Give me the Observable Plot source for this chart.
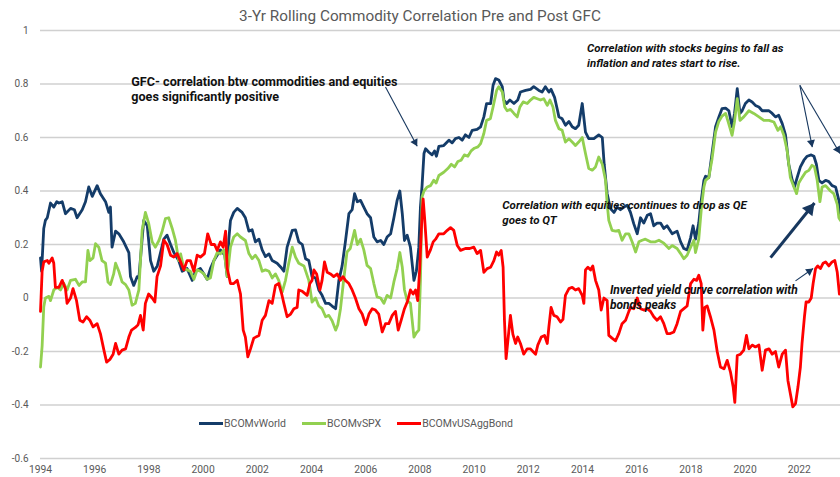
<!DOCTYPE html>
<html><head><meta charset="utf-8">
<script src="https://cdn.jsdelivr.net/npm/d3@7"></script>
<script src="https://cdn.jsdelivr.net/npm/@observablehq/plot@0.6"></script>
<style>
body{margin:0;background:#fff;font-family:Roboto,sans-serif;}
#wrap{position:relative;width:840px;height:477px;overflow:hidden;}
#title{position:absolute;top:7px;left:0;width:840px;text-align:center;font-size:15.3px;color:#595959;line-height:19px;}
#legend{position:absolute;top:417px;left:199px;display:flex;align-items:center;font-size:10.5px;color:#595959;}
.item{display:flex;align-items:center;margin-right:16px;}
.sw{width:24px;height:3px;margin-right:1px;}
</style></head>
<body>
<div id="wrap"><div id="chart"></div><div id="title"></div><div id="legend"></div></div>
<script>
const chartTitle = "3-Yr Rolling Commodity Correlation Pre and Post GFC";
const seriesNames = ["BCOMvWorld","BCOMvSPX","BCOMvUSAggBond"];
const seriesColors = ["#143c69","#92d050","#ff0000"];
const yTicks = [-0.6,-0.4,-0.2,0,0.2,0.4,0.6,0.8,1];
const xTicks = [1994,1996,1998,2000,2002,2004,2006,2008,2010,2012,2014,2016,2018,2020,2022];

const world = [[1994.0,0.15],[1994.04,0.10],[1994.12,0.26],[1994.18,0.29],[1994.25,0.30],[1994.37,0.355],[1994.49,0.34],[1994.6,0.36],[1994.68,0.355],[1994.8,0.36],[1994.92,0.315],[1995.11,0.335],[1995.25,0.33],[1995.35,0.30],[1995.54,0.33],[1995.66,0.36],[1995.78,0.415],[1995.91,0.38],[1996.09,0.42],[1996.21,0.39],[1996.4,0.36],[1996.52,0.32],[1996.58,0.34],[1996.64,0.19],[1996.77,0.25],[1996.89,0.24],[1997.07,0.21],[1997.26,0.17],[1997.32,0.08],[1997.44,0.047],[1997.57,0.08],[1997.63,0.075],[1997.75,0.22],[1997.81,0.29],[1997.94,0.27],[1998.06,0.14],[1998.18,0.10],[1998.31,0.12],[1998.55,0.22],[1998.67,0.235],[1998.8,0.20],[1998.92,0.17],[1999.1,0.14],[1999.23,0.10],[1999.41,0.11],[1999.6,0.066],[1999.72,0.10],[1999.9,0.11],[2000.03,0.09],[2000.15,0.07],[2000.27,0.11],[2000.4,0.14],[2000.64,0.18],[2000.8,0.16],[2000.89,0.08],[2000.95,0.22],[2001.01,0.29],[2001.13,0.32],[2001.26,0.335],[2001.44,0.32],[2001.56,0.30],[2001.69,0.25],[2001.81,0.255],[2001.93,0.21],[2002.06,0.22],[2002.18,0.18],[2002.3,0.155],[2002.43,0.165],[2002.55,0.14],[2002.73,0.13],[2002.86,0.116],[2002.98,0.10],[2003.1,0.19],[2003.29,0.253],[2003.41,0.255],[2003.53,0.21],[2003.66,0.20],[2003.78,0.147],[2003.9,0.14],[2004.02,0.08],[2004.15,0.075],[2004.27,0.03],[2004.39,0.01],[2004.52,-0.02],[2004.64,-0.02],[2004.76,-0.03],[2004.89,-0.04],[2005.01,0.066],[2005.13,0.12],[2005.25,0.21],[2005.38,0.315],[2005.5,0.33],[2005.59,0.39],[2005.69,0.36],[2005.81,0.365],[2005.93,0.34],[2006.05,0.315],[2006.18,0.30],[2006.3,0.228],[2006.42,0.21],[2006.55,0.215],[2006.67,0.20],[2006.79,0.228],[2006.92,0.24],[2007.04,0.30],[2007.16,0.365],[2007.26,0.40],[2007.35,0.315],[2007.43,0.215],[2007.53,0.235],[2007.65,0.19],[2007.78,0.066],[2007.87,0.10],[2007.96,0.19],[2008.02,0.34],[2008.08,0.42],[2008.15,0.54],[2008.21,0.558],[2008.33,0.545],[2008.45,0.535],[2008.54,0.55],[2008.61,0.53],[2008.7,0.567],[2008.88,0.57],[2009.07,0.59],[2009.19,0.58],[2009.31,0.596],[2009.44,0.60],[2009.56,0.59],[2009.68,0.61],[2009.81,0.60],[2009.93,0.627],[2010.11,0.63],[2010.24,0.64],[2010.36,0.677],[2010.46,0.727],[2010.61,0.727],[2010.7,0.795],[2010.79,0.82],[2010.91,0.815],[2011.04,0.79],[2011.1,0.74],[2011.2,0.727],[2011.32,0.74],[2011.47,0.727],[2011.61,0.74],[2011.71,0.77],[2011.9,0.776],[2012.08,0.78],[2012.2,0.79],[2012.39,0.776],[2012.51,0.77],[2012.63,0.79],[2012.76,0.77],[2012.84,0.78],[2012.97,0.75],[2013.05,0.714],[2013.13,0.677],[2013.25,0.67],[2013.37,0.646],[2013.5,0.66],[2013.62,0.64],[2013.74,0.633],[2013.86,0.646],[2013.99,0.727],[2014.11,0.62],[2014.23,0.596],[2014.42,0.596],[2014.6,0.61],[2014.73,0.60],[2014.8,0.50],[2014.91,0.39],[2015.03,0.334],[2015.16,0.32],[2015.28,0.34],[2015.4,0.33],[2015.53,0.34],[2015.65,0.347],[2015.77,0.32],[2015.89,0.278],[2016.02,0.24],[2016.14,0.30],[2016.26,0.28],[2016.39,0.309],[2016.51,0.315],[2016.63,0.27],[2016.75,0.28],[2016.88,0.28],[2017.0,0.26],[2017.12,0.27],[2017.31,0.24],[2017.49,0.25],[2017.62,0.21],[2017.74,0.185],[2017.86,0.18],[2017.99,0.226],[2018.08,0.27],[2018.17,0.22],[2018.29,0.28],[2018.35,0.34],[2018.48,0.44],[2018.54,0.455],[2018.66,0.45],[2018.78,0.54],[2018.91,0.64],[2019.03,0.676],[2019.15,0.708],[2019.28,0.71],[2019.4,0.70],[2019.52,0.64],[2019.61,0.69],[2019.71,0.783],[2019.81,0.69],[2019.89,0.70],[2020.01,0.727],[2020.14,0.74],[2020.26,0.733],[2020.38,0.72],[2020.51,0.714],[2020.63,0.70],[2020.75,0.70],[2020.88,0.70],[2021.0,0.69],[2021.12,0.677],[2021.24,0.683],[2021.37,0.652],[2021.49,0.61],[2021.61,0.50],[2021.74,0.44],[2021.82,0.415],[2021.92,0.45],[2022.04,0.49],[2022.17,0.515],[2022.29,0.53],[2022.44,0.535],[2022.54,0.53],[2022.63,0.50],[2022.72,0.44],[2022.84,0.43],[2022.97,0.44],[2023.09,0.435],[2023.21,0.42],[2023.34,0.415],[2023.46,0.365],[2023.52,0.315]];

const spx = [[1994.0,-0.258],[1994.06,-0.18],[1994.12,-0.034],[1994.18,0.0],[1994.31,0.006],[1994.37,-0.01],[1994.49,0.03],[1994.62,0.04],[1994.74,0.03],[1994.86,0.055],[1994.98,0.03],[1995.11,0.066],[1995.29,0.07],[1995.42,0.047],[1995.54,0.06],[1995.66,0.06],[1995.75,0.178],[1995.82,0.14],[1995.94,0.15],[1996.03,0.203],[1996.15,0.19],[1996.27,0.14],[1996.4,0.13],[1996.49,0.06],[1996.58,0.05],[1996.7,0.09],[1996.77,0.13],[1996.89,0.10],[1997.01,0.06],[1997.14,0.05],[1997.26,0.03],[1997.38,-0.027],[1997.5,-0.02],[1997.63,0.03],[1997.75,0.253],[1997.87,0.32],[1997.99,0.28],[1998.12,0.21],[1998.24,0.19],[1998.37,0.215],[1998.49,0.25],[1998.61,0.297],[1998.73,0.30],[1998.86,0.26],[1998.98,0.215],[1999.1,0.14],[1999.17,0.165],[1999.29,0.11],[1999.41,0.105],[1999.53,0.10],[1999.66,0.07],[1999.78,0.105],[1999.9,0.10],[2000.03,0.09],[2000.15,0.07],[2000.27,0.075],[2000.4,0.14],[2000.52,0.17],[2000.64,0.165],[2000.77,0.18],[2000.89,0.08],[2001.01,0.19],[2001.13,0.228],[2001.26,0.24],[2001.38,0.228],[2001.56,0.215],[2001.69,0.166],[2001.81,0.147],[2001.93,0.16],[2002.06,0.14],[2002.18,0.10],[2002.3,0.105],[2002.43,0.10],[2002.55,0.075],[2002.67,0.09],[2002.79,0.066],[2002.92,0.022],[2003.04,0.066],[2003.16,0.13],[2003.29,0.19],[2003.41,0.153],[2003.53,0.13],[2003.72,0.12],[2003.9,0.066],[2004.02,-0.015],[2004.15,0.0],[2004.27,-0.03],[2004.39,-0.04],[2004.52,-0.07],[2004.64,-0.065],[2004.76,-0.085],[2004.89,-0.12],[2004.97,-0.10],[2005.07,-0.04],[2005.19,0.07],[2005.31,0.172],[2005.43,0.185],[2005.59,0.253],[2005.69,0.20],[2005.81,0.22],[2005.93,0.18],[2006.05,0.122],[2006.18,0.11],[2006.3,0.054],[2006.42,0.004],[2006.55,0.0],[2006.67,-0.02],[2006.79,0.01],[2006.92,0.0],[2007.04,0.06],[2007.16,0.11],[2007.26,0.17],[2007.35,0.115],[2007.43,0.03],[2007.53,-0.01],[2007.65,-0.02],[2007.78,-0.146],[2007.87,-0.13],[2007.96,-0.12],[2008.02,0.066],[2008.08,0.378],[2008.15,0.40],[2008.27,0.415],[2008.39,0.42],[2008.51,0.44],[2008.6,0.43],[2008.7,0.458],[2008.88,0.47],[2009.03,0.484],[2009.16,0.50],[2009.28,0.49],[2009.4,0.51],[2009.52,0.515],[2009.64,0.535],[2009.77,0.53],[2009.89,0.55],[2010.01,0.56],[2010.14,0.565],[2010.24,0.577],[2010.36,0.615],[2010.46,0.664],[2010.6,0.67],[2010.7,0.714],[2010.83,0.776],[2010.91,0.79],[2011.04,0.77],[2011.13,0.714],[2011.22,0.70],[2011.34,0.705],[2011.47,0.69],[2011.59,0.677],[2011.69,0.714],[2011.81,0.733],[2011.96,0.727],[2012.08,0.74],[2012.2,0.75],[2012.33,0.745],[2012.45,0.74],[2012.57,0.745],[2012.7,0.72],[2012.8,0.74],[2012.91,0.714],[2013.0,0.664],[2013.13,0.633],[2013.25,0.627],[2013.37,0.583],[2013.5,0.595],[2013.62,0.583],[2013.74,0.57],[2013.86,0.583],[2013.99,0.60],[2014.11,0.54],[2014.23,0.484],[2014.36,0.478],[2014.48,0.49],[2014.6,0.527],[2014.73,0.50],[2014.85,0.44],[2014.91,0.353],[2014.97,0.29],[2015.09,0.253],[2015.22,0.25],[2015.34,0.253],[2015.46,0.216],[2015.59,0.24],[2015.71,0.24],[2015.83,0.21],[2015.96,0.172],[2016.08,0.21],[2016.2,0.216],[2016.32,0.22],[2016.51,0.21],[2016.69,0.21],[2016.82,0.216],[2017.0,0.205],[2017.19,0.185],[2017.31,0.196],[2017.49,0.185],[2017.62,0.166],[2017.74,0.147],[2017.86,0.16],[2017.99,0.19],[2018.11,0.216],[2018.17,0.17],[2018.29,0.22],[2018.39,0.34],[2018.48,0.415],[2018.54,0.44],[2018.66,0.45],[2018.78,0.52],[2018.91,0.62],[2019.03,0.66],[2019.15,0.68],[2019.28,0.69],[2019.4,0.65],[2019.52,0.608],[2019.61,0.66],[2019.71,0.745],[2019.81,0.664],[2019.95,0.677],[2020.14,0.70],[2020.32,0.69],[2020.51,0.677],[2020.69,0.664],[2020.88,0.664],[2021.06,0.658],[2021.21,0.627],[2021.31,0.64],[2021.43,0.608],[2021.55,0.552],[2021.67,0.45],[2021.8,0.415],[2021.9,0.39],[2021.98,0.43],[2022.1,0.45],[2022.23,0.47],[2022.35,0.477],[2022.47,0.496],[2022.56,0.49],[2022.66,0.44],[2022.76,0.36],[2022.84,0.415],[2022.97,0.42],[2023.15,0.40],[2023.27,0.39],[2023.4,0.35],[2023.46,0.30],[2023.52,0.29]];

const bond = [[1994.0,-0.05],[1994.06,0.10],[1994.12,0.135],[1994.25,0.14],[1994.31,0.13],[1994.43,0.15],[1994.49,0.13],[1994.55,0.04],[1994.68,0.04],[1994.8,0.066],[1994.92,0.035],[1994.98,-0.02],[1995.11,0.0],[1995.2,0.035],[1995.33,-0.01],[1995.45,-0.083],[1995.57,-0.09],[1995.7,-0.07],[1995.82,-0.083],[1995.94,-0.108],[1996.09,-0.096],[1996.21,-0.133],[1996.34,-0.195],[1996.44,-0.24],[1996.56,-0.23],[1996.68,-0.21],[1996.77,-0.17],[1996.89,-0.21],[1997.01,-0.195],[1997.14,-0.19],[1997.26,-0.146],[1997.36,-0.12],[1997.5,-0.11],[1997.6,-0.10],[1997.69,-0.065],[1997.79,-0.12],[1997.87,-0.02],[1997.99,0.015],[1998.12,0.0],[1998.22,-0.015],[1998.3,0.08],[1998.43,0.12],[1998.55,0.216],[1998.67,0.20],[1998.8,0.16],[1998.92,0.153],[1999.04,0.166],[1999.17,0.135],[1999.29,0.105],[1999.41,0.14],[1999.53,0.14],[1999.66,0.10],[1999.78,0.16],[1999.9,0.153],[2000.05,0.166],[2000.17,0.24],[2000.3,0.20],[2000.42,0.20],[2000.52,0.178],[2000.64,0.21],[2000.74,0.19],[2000.83,0.25],[2000.89,0.11],[2001.01,0.054],[2001.13,0.054],[2001.26,0.066],[2001.38,0.015],[2001.48,-0.12],[2001.56,-0.146],[2001.65,-0.22],[2001.75,-0.19],[2001.87,-0.15],[2002.06,-0.14],[2002.18,-0.083],[2002.3,-0.065],[2002.43,-0.01],[2002.55,-0.02],[2002.67,0.047],[2002.79,0.054],[2002.9,0.015],[2002.98,-0.02],[2003.1,-0.07],[2003.23,-0.06],[2003.35,-0.04],[2003.47,-0.035],[2003.53,0.03],[2003.66,0.025],[2003.84,0.01],[2003.94,0.054],[2004.02,0.066],[2004.09,0.105],[2004.19,0.09],[2004.31,0.03],[2004.39,0.066],[2004.48,0.135],[2004.58,0.096],[2004.7,0.09],[2004.82,0.08],[2004.95,0.09],[2005.07,0.066],[2005.16,0.08],[2005.25,0.066],[2005.38,0.054],[2005.5,0.03],[2005.62,0.0],[2005.75,-0.04],[2005.87,-0.06],[2006.0,-0.10],[2006.12,-0.06],[2006.24,-0.04],[2006.36,-0.045],[2006.48,-0.06],[2006.61,-0.127],[2006.73,-0.096],[2006.85,-0.096],[2006.98,-0.065],[2007.1,-0.05],[2007.2,-0.12],[2007.31,-0.083],[2007.43,-0.04],[2007.55,-0.01],[2007.65,0.03],[2007.75,0.015],[2007.84,0.03],[2007.92,-0.01],[2007.99,0.105],[2008.08,0.315],[2008.12,0.37],[2008.18,0.29],[2008.27,0.153],[2008.39,0.18],[2008.49,0.21],[2008.58,0.22],[2008.7,0.24],[2008.88,0.24],[2009.01,0.253],[2009.13,0.263],[2009.25,0.253],[2009.38,0.196],[2009.5,0.178],[2009.68,0.185],[2009.84,0.185],[2009.99,0.19],[2010.11,0.166],[2010.24,0.178],[2010.36,0.096],[2010.48,0.11],[2010.61,0.115],[2010.73,0.14],[2010.83,0.172],[2010.91,0.16],[2011.0,0.178],[2011.07,0.115],[2011.12,-0.083],[2011.18,-0.227],[2011.26,-0.146],[2011.34,-0.065],[2011.43,-0.135],[2011.53,-0.17],[2011.61,-0.146],[2011.71,-0.17],[2011.83,-0.21],[2011.96,-0.19],[2012.08,-0.19],[2012.17,-0.20],[2012.27,-0.21],[2012.35,-0.176],[2012.48,-0.146],[2012.6,-0.14],[2012.7,-0.17],[2012.76,-0.107],[2012.84,-0.035],[2012.94,-0.065],[2013.06,-0.07],[2013.19,-0.09],[2013.28,-0.08],[2013.37,0.01],[2013.5,0.035],[2013.62,0.04],[2013.74,0.03],[2013.86,0.035],[2013.99,0.01],[2014.05,-0.02],[2014.11,0.105],[2014.2,0.115],[2014.3,0.105],[2014.38,0.12],[2014.48,0.066],[2014.6,0.03],[2014.69,-0.045],[2014.79,0.0],[2014.91,-0.01],[2014.97,-0.14],[2015.09,-0.15],[2015.22,-0.16],[2015.34,-0.133],[2015.46,-0.096],[2015.59,-0.083],[2015.71,-0.05],[2015.77,-0.035],[2015.89,-0.04],[2016.02,0.0],[2016.14,-0.04],[2016.26,-0.045],[2016.39,-0.04],[2016.51,-0.05],[2016.63,-0.07],[2016.75,-0.083],[2016.88,-0.07],[2017.0,-0.096],[2017.12,-0.133],[2017.24,-0.133],[2017.37,-0.127],[2017.49,-0.096],[2017.62,-0.05],[2017.74,-0.04],[2017.86,-0.03],[2017.99,0.054],[2018.11,0.07],[2018.21,0.066],[2018.29,0.085],[2018.38,0.054],[2018.44,-0.12],[2018.51,-0.035],[2018.6,-0.03],[2018.72,-0.07],[2018.85,-0.12],[2018.97,-0.20],[2019.09,-0.258],[2019.22,-0.265],[2019.34,-0.233],[2019.46,-0.277],[2019.56,-0.333],[2019.62,-0.39],[2019.71,-0.215],[2019.83,-0.21],[2019.95,-0.195],[2020.05,-0.14],[2020.14,-0.19],[2020.26,-0.176],[2020.38,-0.183],[2020.51,-0.176],[2020.63,-0.27],[2020.75,-0.195],[2020.88,-0.19],[2021.0,-0.21],[2021.12,-0.20],[2021.24,-0.258],[2021.37,-0.21],[2021.49,-0.195],[2021.58,-0.308],[2021.67,-0.358],[2021.76,-0.407],[2021.86,-0.395],[2021.95,-0.333],[2022.04,-0.258],[2022.1,-0.17],[2022.19,-0.07],[2022.25,-0.015],[2022.35,-0.015],[2022.44,0.0],[2022.51,0.054],[2022.6,0.11],[2022.68,0.12],[2022.78,0.11],[2022.88,0.13],[2022.97,0.135],[2023.09,0.12],[2023.21,0.135],[2023.31,0.14],[2023.4,0.096],[2023.48,0.015]];

const boldNotes = [
  {x:1997.35, y:0.807, text:"GFC- correlation btw commodities and equities"},
  {x:1997.35, y:0.753, text:"goes significantly positive"}
];
const italicNotes = [
  {x:2014.17, y:0.932, size:11.4, text:"Correlation with stocks begins to fall as"},
  {x:2014.17, y:0.878, size:11.4, text:"inflation and rates start to rise."},
  {x:2011.04, y:0.347, size:11.5, text:"Correlation with equities continues to drop as QE"},
  {x:2011.04, y:0.290, size:11.5, text:"goes to QT"},
  {x:2015.01, y:0.031, size:12, text:"Inverted yield curve correlation with"},
  {x:2015.01, y:-0.025, size:12, text:"bonds peaks"}
];
const arrows = [
  {x1:2006.73, y1:0.789, x2:2007.9, y2:0.567, w:1.1, r:3},
  {x1:2022.02, y1:0.795, x2:2022.48, y2:0.564, w:1.1, r:3},
  {x1:2022.02, y1:0.795, x2:2023.5, y2:0.54, w:1.1, r:3},
  {x1:2021.86, y1:0.064, x2:2022.51, y2:0.11, w:1.1, r:3},
  {x1:2020.94, y1:0.151, x2:2022.56, y2:0.355, w:3, r:5}
];

const W = 840, H = 477, mT = 30, mB = 19, mL = 40, mR = 0;
const xDomain = [1994, 2023.52], yDomain = [-0.6, 1];
// same mapping Plot uses, only to orient the filled arrow heads
const sx = d3.scaleLinear(xDomain, [mL, W - mR]);
const sy = d3.scaleLinear(yDomain, [H - mB, mT]);
const heads = arrows.map(a => {
  const dx = sx(a.x2) - sx(a.x1), dy = sy(a.y2) - sy(a.y1);
  const len = Math.hypot(dx, dy);
  const tipOff = a.r * 1.55;
  const cx = sx(a.x2) - dx / len * tipOff, cy = sy(a.y2) - dy / len * tipOff;
  return {x: sx.invert(cx), y: sy.invert(cy), angle: Math.atan2(dx, -dy) * 180 / Math.PI, r: a.r};
});

const rows = [world, spx, bond].flatMap((s, i) => s.map(([x, y]) => ({x, y, series: seriesNames[i]})));

const chart = Plot.plot({
  width: W, height: H,
  marginTop: mT, marginBottom: mB, marginLeft: mL, marginRight: mR,
  x: {domain: xDomain, label: null},
  y: {domain: yDomain, label: null},
  r: {type: "identity"},
  color: {domain: seriesNames, range: seriesColors},
  style: {fontFamily: "Roboto, sans-serif", fontSize: "10px", color: "#595959", background: "white"},
  marks: [
    Plot.gridY(yTicks, {stroke: "#d0d0d0", strokeOpacity: 1, strokeWidth: 1.5}),
    Plot.axisY(yTicks, {tickSize: 0, tickPadding: 12, tickFormat: d => String(d), fill: "#595959", fontSize: 10}),
    Plot.axisX(xTicks, {tickSize: 0, tickPadding: 7, tickFormat: d => String(d), fill: "#595959", fontSize: 10.3}),
    Plot.line(rows, {x: "x", y: "y", z: "series", stroke: "series", strokeWidth: 2.8, strokeLinejoin: "round"}),
    Plot.link(arrows, {x1: "x1", y1: "y1", x2: "x2", y2: "y2", stroke: "#17375e", strokeWidth: "w"}),
    Plot.dot(heads, {x: "x", y: "y", r: "r", symbol: "triangle", rotate: "angle", fill: "#17375e", stroke: "none"}),
    Plot.text(boldNotes, {x: "x", y: "y", text: "text", textAnchor: "start", fill: "#111", fontSize: 12.6, fontWeight: "bold"}),
    Plot.text(italicNotes, {x: "x", y: "y", text: "text", textAnchor: "start", fill: "#111", fontSize: "size", fontWeight: "bold", fontStyle: "italic"})
  ]
});
document.getElementById("chart").appendChild(chart);
document.getElementById("title").textContent = chartTitle;
const legend = document.getElementById("legend");
seriesNames.forEach((n, i) => {
  const it = document.createElement("div"); it.className = "item";
  const sw = document.createElement("div"); sw.className = "sw"; sw.style.background = seriesColors[i];
  const t = document.createElement("span"); t.textContent = n;
  it.appendChild(sw); it.appendChild(t); legend.appendChild(it);
});
</script>
</body></html>
